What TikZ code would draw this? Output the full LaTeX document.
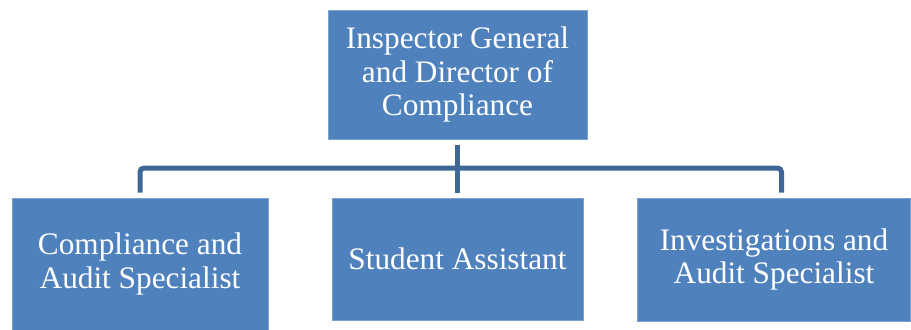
\documentclass[tikz,border=0pt]{standalone}
\usepackage{fontspec}
\setmainfont{Liberation Serif}
\definecolor{boxblue}{RGB}{79,129,189}
\definecolor{boxedge}{RGB}{125,160,205}
\definecolor{linkblue}{RGB}{62,103,152}

\begin{document}
\begin{tikzpicture}[x=0.02cm,y=-0.02cm,
		orgbox/.style={draw=boxedge,line width=0.4pt,fill=boxblue,text=white,align=center,inner sep=0pt,font=\fontsize{17.8}{19}\selectfont},
		link/.style={draw=linkblue,line width=0.1cm,rounded corners=0.08cm}]
			\useasboundingbox (0,0) rectangle (911,329);
			\node[orgbox,minimum width=259*0.02cm,minimum height=129*0.02cm] (ig) at (457.5,74.5){Inspector General\\and Director of\\Compliance};
			\node[orgbox,minimum width=256*0.02cm,minimum height=132*0.02cm] (cas) at (140,264){Compliance and\\Audit Specialist};
			\node[orgbox,minimum width=251*0.02cm,minimum height=122*0.02cm] (sa) at (457.5,259){Student Assistant};
			\node[orgbox,minimum width=273*0.02cm,minimum height=123*0.02cm] (ias) at (774,259.5){Investigations and\\Audit Specialist};
			\coordinate (bus) at (457.5,168);
			\draw[link,shorten <=0.12cm,shorten >=0.1cm] (ig) -- (sa);
			\draw[link,shorten >=0.1cm] (bus) -| (cas);
			\draw[link,shorten >=0.1cm] (bus) -| ([xshift=0.15cm]ias.north);
		\end{tikzpicture}
\end{document}
